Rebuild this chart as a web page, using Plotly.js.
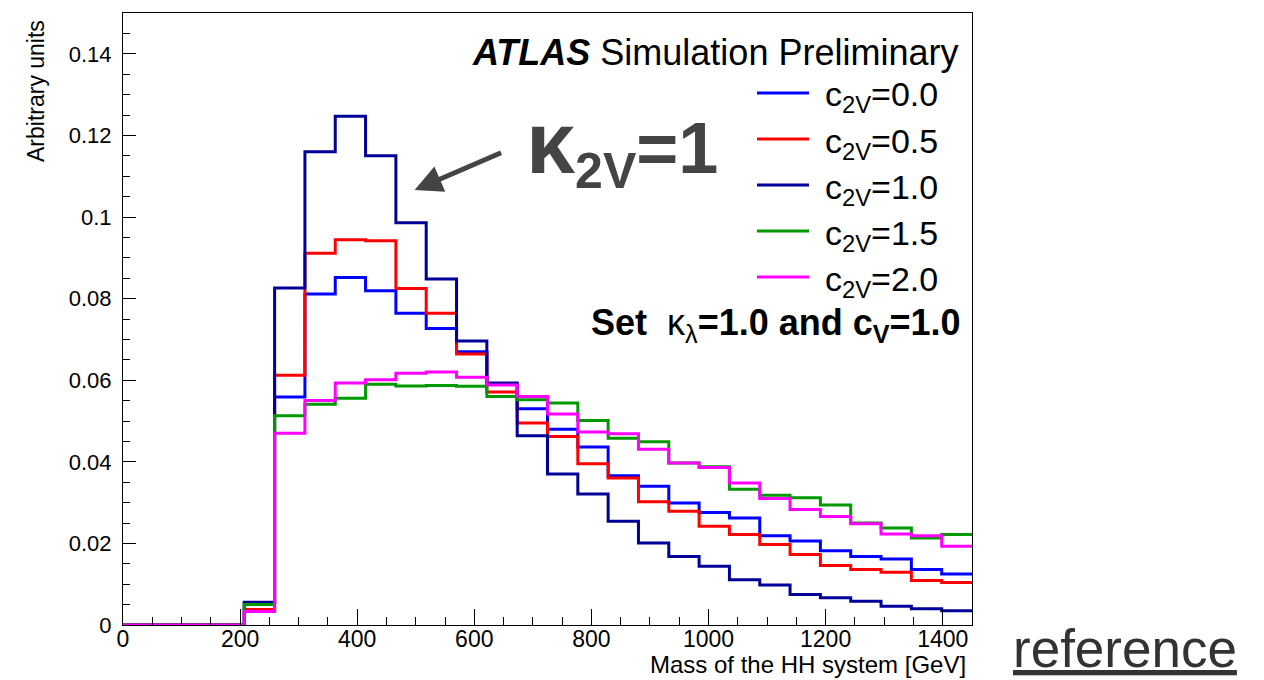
<!DOCTYPE html>
<html><head><meta charset="utf-8">
<script src="https://cdn.plot.ly/plotly-3.0.1.min.js"></script>
<style>html,body{margin:0;padding:0;background:#fff}</style>
</head><body><div id="chart" style="width:1264px;height:680px"></div>
<script>
// Histogram binning (GeV)
const xMin = 0, xMax = 1450, nBins = 28;

// Bin contents (arbitrary units)
const c2v_0p0 = [0,0,0,0,0.0054,0.0559,0.0811,0.0852,0.0819,0.0764,0.0727,0.0670,0.0590,0.0530,0.0480,0.0436,0.0366,0.0340,0.0299,0.0276,0.0262,0.0219,0.0206,0.0182,0.0168,0.0162,0.0136,0.0125];
const c2v_0p5 = [0,0,0,0,0.0038,0.0612,0.0911,0.0944,0.0942,0.0825,0.0764,0.0664,0.0571,0.0495,0.0462,0.0395,0.0360,0.0302,0.0279,0.0242,0.0222,0.0197,0.0173,0.0146,0.0136,0.0129,0.0109,0.0104];
const c2v_1p0 = [0,0,0,0,0.0056,0.0826,0.1160,0.1247,0.1150,0.0986,0.0848,0.0696,0.0593,0.0464,0.0370,0.0321,0.0254,0.0201,0.0168,0.0144,0.0111,0.0098,0.0075,0.0067,0.0058,0.0046,0.0040,0.0035];
const c2v_1p5 = [0,0,0,0,0.0050,0.0513,0.0541,0.0556,0.0590,0.0586,0.0587,0.0585,0.0560,0.0552,0.0544,0.0501,0.0458,0.0449,0.0397,0.0388,0.0333,0.0318,0.0312,0.0294,0.0250,0.0238,0.0213,0.0222];
const c2v_2p0 = [0,0,0,0,0.0033,0.0470,0.0550,0.0593,0.0601,0.0617,0.0620,0.0607,0.0588,0.0560,0.0517,0.0473,0.0469,0.0431,0.0397,0.0386,0.0348,0.0310,0.0283,0.0266,0.0248,0.0223,0.0219,0.0193];

const seriesValues = [c2v_0p0, c2v_0p5, c2v_1p0, c2v_1p5, c2v_2p0];
const seriesLabels = ['c<sub>2V</sub>=0.0','c<sub>2V</sub>=0.5','c<sub>2V</sub>=1.0','c<sub>2V</sub>=1.5','c<sub>2V</sub>=2.0'];
const seriesColors = ['#0000ff','#ff0000','#000099','#009900','#ff00ff'];

const xTitle = 'Mass of the HH system [GeV]';
const yTitle = 'Arbitrary units';

// bin edges
const binW = (xMax - xMin) / nBins;
const edges = [];
for (let i = 0; i <= nBins; i++) edges.push(xMin + i * binW);

const traces = seriesValues.map((vals, k) => ({
  type: 'scatter', mode: 'lines',
  x: edges,
  y: vals.concat([vals[vals.length - 1]]),
  line: {shape: 'hv', color: seriesColors[k], width: 3},
  name: seriesLabels[k],
  hoverinfo: 'skip'
}));

// plot area geometry in pixels
const W = 1264, H = 680, mL = 123, mR = 292, mT = 13, mB = 55;
const pw = W - mL - mR, ph = H - mT - mB;
const xp = px => (px - mL) / pw;
const yp = py => (H - mB - py) / ph;

const shapes = [];
const annotations = [];
seriesLabels.forEach((lab, i) => {
  const yy = 93 + 46 * i;
  shapes.push({type:'line', xref:'paper', yref:'paper', x0:xp(757), x1:xp(809), y0:yp(yy), y1:yp(yy),
               line:{color:seriesColors[i], width:3}});
  annotations.push({xref:'paper', yref:'paper', x:xp(823), y:yp(yy+4), xanchor:'left', yanchor:'middle',
                    text:lab, showarrow:false, font:{size:34, color:'#000'}});
});

annotations.push({xref:'paper', yref:'paper', x:xp(960), y:yp(52), xanchor:'right', yanchor:'middle',
  text:'<b><i>ATLAS</i></b> Simulation Preliminary', showarrow:false, font:{size:36, color:'#000'}});
annotations.push({xref:'paper', yref:'paper', x:xp(963), y:yp(325), xanchor:'right', yanchor:'middle',
  text:'<b>Set</b>  κ<sub>λ</sub><b>=1.0 and c<sub>V</sub>=1.0</b>', showarrow:false, font:{size:36, color:'#000'}});
annotations.push({xref:'paper', yref:'paper', x:xp(524), y:yp(146), xanchor:'left', yanchor:'middle',
  text:'<b><span style="font-size:88px">κ</span><sub><span style="font-size:50px">2V</span></sub>=1</b>',
  showarrow:false, font:{size:72, color:'#444444'}});
// arrow
annotations.push({xref:'x', yref:'y', x:498, y:0.1066, ax:88, ay:-38, axref:'pixel', ayref:'pixel',
  text:'', showarrow:true, arrowhead:2, arrowsize:1.1, arrowwidth:5, arrowcolor:'#444444'});
// axis titles
annotations.push({xref:'paper', yref:'paper', x:xp(968), y:yp(664), xanchor:'right', yanchor:'middle',
  text:xTitle, showarrow:false, font:{size:24, color:'#000'}});
annotations.push({xref:'paper', yref:'paper', x:xp(36), y:yp(18), xanchor:'center', yanchor:'top',
  text:yTitle, textangle:-90, showarrow:false, font:{size:23, color:'#000'}});
// corner label
annotations.push({xref:'paper', yref:'paper', x:xp(1125), y:yp(648), xanchor:'center', yanchor:'middle',
  text:'<u>reference</u>', showarrow:false, font:{size:53, color:'#333333'}});

const layout = {
  width: W, height: H,
  margin: {l:mL, r:mR, t:mT, b:mB, pad:0},
  paper_bgcolor:'#ffffff', plot_bgcolor:'#ffffff',
  showlegend:false,
  font:{family:'"Liberation Sans", Arial, Helvetica, sans-serif', color:'#000'},
  xaxis:{range:[xMin, xMax], tick0:0, dtick:200, ticks:'inside', ticklen:16, tickwidth:1, tickcolor:'#000',
         showline:true, linecolor:'#000', linewidth:1, mirror:true, showgrid:false, zeroline:false,
         tickfont:{size:23, color:'#000'}, ticklabelstandoff:-7,
         minor:{dtick:50, ticks:'inside', ticklen:8, tickwidth:1, tickcolor:'#000', showgrid:false}},
  yaxis:{range:[0, 0.15], tick0:0, dtick:0.02, ticks:'inside', ticklen:13, tickwidth:1, tickcolor:'#000',
         showline:true, linecolor:'#000', linewidth:1, mirror:true, showgrid:false, zeroline:false,
         tickfont:{size:22, color:'#000'}, ticklabelstandoff:6,
         minor:{dtick:0.005, ticks:'inside', ticklen:7, tickwidth:1, tickcolor:'#000', showgrid:false}},
  shapes: shapes,
  annotations: annotations
};

Plotly.newPlot('chart', traces, layout, {displayModeBar:false, staticPlot:true});
</script></body></html>
